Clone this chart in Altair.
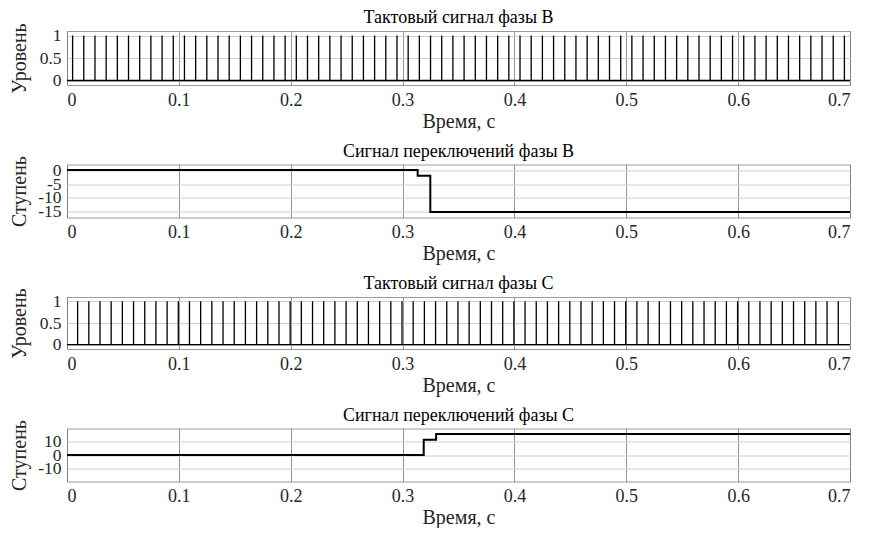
import altair as alt
import pandas as pd

FONT = "Times New Roman, Liberation Serif, serif"

X_TICKS = [0, 0.1, 0.2, 0.3, 0.4, 0.5, 0.6, 0.7]

# clock pulse instants (s), phase B
PULSES_B = [0.005, 0.015, 0.025, 0.035, 0.045, 0.055, 0.065, 0.075, 0.085, 0.095,
            0.105, 0.115, 0.125, 0.135, 0.145, 0.155, 0.165, 0.175, 0.185, 0.195,
            0.205, 0.215, 0.225, 0.235, 0.245, 0.255, 0.265, 0.275, 0.285, 0.295,
            0.305, 0.315, 0.325, 0.335, 0.345, 0.355, 0.365, 0.375, 0.385, 0.395,
            0.405, 0.415, 0.425, 0.435, 0.445, 0.455, 0.465, 0.475, 0.485, 0.495,
            0.505, 0.515, 0.525, 0.535, 0.545, 0.555, 0.565, 0.575, 0.585, 0.595,
            0.605, 0.615, 0.625, 0.635, 0.645, 0.655, 0.665, 0.675, 0.685, 0.695]

# clock pulse instants (s), phase C
PULSES_C = [0.0095, 0.0195, 0.0295, 0.0395, 0.0495, 0.0595, 0.0695, 0.0795, 0.0895, 0.0995,
            0.1095, 0.1195, 0.1295, 0.1395, 0.1495, 0.1595, 0.1695, 0.1795, 0.1895, 0.1995,
            0.2095, 0.2195, 0.2295, 0.2395, 0.2495, 0.2595, 0.2695, 0.2795, 0.2895, 0.2995,
            0.3095, 0.3195, 0.3295, 0.3395, 0.3495, 0.3595, 0.3695, 0.3795, 0.3895, 0.3995,
            0.4095, 0.4195, 0.4295, 0.4395, 0.4495, 0.4595, 0.4695, 0.4795, 0.4895, 0.4995,
            0.5095, 0.5195, 0.5295, 0.5395, 0.5495, 0.5595, 0.5695, 0.5795, 0.5895, 0.5995,
            0.6095, 0.6195, 0.6295, 0.6395, 0.6495, 0.6595, 0.6695, 0.6795, 0.6895]

# switching signals (step-after)
SWITCH_B_T = [0.0, 0.3135, 0.3248, 0.7]
SWITCH_B_V = [0, -2, -15, -15]
SWITCH_C_T = [0.0, 0.3189, 0.3300, 0.7]
SWITCH_C_V = [0, 11, 15, 15]

LEVEL_TICKS = [0, 0.5, 1]
STEP_B_TICKS = [-15, -10, -5, 0]
STEP_C_TICKS = [-10, 0, 10]


def clock_table(pulses):
    rows = [(0.0, 0)]
    for t in pulses:
        rows += [(t, 0), (t, 1), (t, 0)]
    rows.append((0.7, 0))
    return pd.DataFrame({"t": [r[0] for r in rows], "v": [r[1] for r in rows],
                         "i": list(range(len(rows)))})


def step_table(ts, vs):
    return pd.DataFrame({"t": ts, "v": vs, "i": list(range(len(ts)))})


def panel(df, title, ytitle, ydomain, yticks, h, toff, interp="linear", sw=1.3):
    x = alt.X("t:Q",
              scale=alt.Scale(domain=[0, 0.7], nice=False, zero=False),
              axis=alt.Axis(values=X_TICKS, title="Время, с", grid=True,
                            gridColor="#7a7a7a", gridWidth=0.8,
                            labelExpr="datum.value == 0 ? '0' : format(datum.value, '.1f')",
                            labelPadding=6, titlePadding=2, labelOverlap=False,
                            labelFont=FONT, titleFont=FONT))
    y = alt.Y("v:Q",
              scale=alt.Scale(domain=ydomain, nice=False, zero=False),
              axis=alt.Axis(values=yticks, title=ytitle, grid=True,
                            gridColor="#cfcfcf", gridWidth=1,
                            labelExpr="'' + datum.value", labelPadding=6,
                            labelOverlap=False, labelBound=False, labelFontSize=17.5,
                            labelFont=FONT, titleFont=FONT,
                            titleX=-48, titleAngle=270, titleBaseline="middle",
                            titleAlign="center"))
    return (alt.Chart(df)
            .mark_line(color="black", strokeWidth=sw, interpolate=interp, clip=True)
            .encode(x=x, y=y, order="i:Q")
            .properties(width=783, height=h,
                        title=alt.TitleParams(title, font=FONT, fontSize=18,
                                              fontWeight="normal", color="black",
                                              offset=toff)))


p1 = panel(clock_table(PULSES_B), "Тактовый сигнал фазы B", "Уровень", [-0.1, 1.1], LEVEL_TICKS, 54, -4.5, sw=1.3)
p2 = panel(step_table(SWITCH_B_T, SWITCH_B_V), "Сигнал переключений фазы B", "Ступень", [-17, 2], STEP_B_TICKS, 53, -5, interp="step-after", sw=2)
p3 = panel(clock_table(PULSES_C), "Тактовый сигнал фазы C", "Уровень", [-0.1, 1.1], LEVEL_TICKS, 52, -5, sw=1.3)
p4 = panel(step_table(SWITCH_C_T, SWITCH_C_V), "Сигнал переключений фазы C", "Ступень", [-19, 19], STEP_C_TICKS, 53, -5, interp="step-after", sw=2)

chart = (alt.vconcat(p1, p2, p3, p4, spacing=9.5)
         .properties(padding={"left": 0, "top": 0, "right": 0, "bottom": 0}, background="white")
         .configure_view(stroke="#9a9a9a", strokeWidth=1)
         .configure_axis(labelFont=FONT, titleFont=FONT, labelFontSize=18, titleFontSize=20,
                         labelColor="#262626", titleColor="#262626", titleFontWeight="normal",
                         domain=False, ticks=False))

chart.save("out.html", embed_options={"renderer": "svg", "actions": False})
